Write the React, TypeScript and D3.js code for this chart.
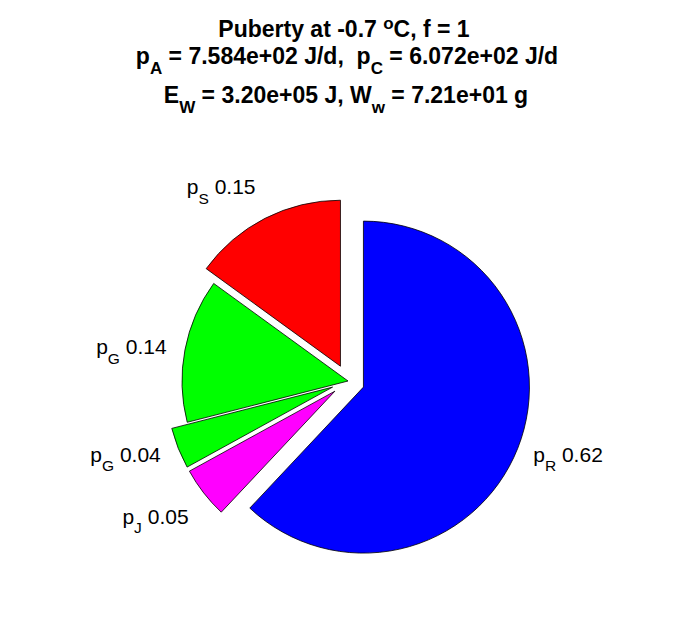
import React from 'react';
import * as d3 from 'd3';

// slice data, drawn clockwise from 12 o'clock
const sliceNames = ['R', 'J', 'G', 'G', 'S'];
const sliceFractions = [0.62, 0.05, 0.04, 0.14, 0.15];
const sliceColors = ['#0000ff', '#ff00ff', '#00ff00', '#00ff00', '#ff0000'];
const sliceExploded = [true, true, true, false, true];

const width = 696;
const height = 618;
const cx = 348;
const cy = 381;
const radius = 166;
const explodeDist = radius * 0.1;
const font = '"Liberation Sans", Arial, Helvetica, sans-serif';
const labelSize = 21;
const titleSize = 23;
const subScale = 0.74;

export default function App() {
  const pie = d3.pie<number>().sort(null).value(d => d)(sliceFractions);
  const arc = d3.arc<d3.PieArcDatum<number>>().innerRadius(0).outerRadius(radius);

  const slices = pie.map((p, i) => {
    const mid = (p.startAngle + p.endAngle) / 2;
    const ux = Math.sin(mid);
    const uy = -Math.cos(mid);
    const off = sliceExploded[i] ? explodeDist : 0;
    const ox = cx + ux * off;
    const oy = cy + uy * off;
    // label placement, roughly like MATLAB's pie
    let vshift = 0;
    if (uy > 0.5) vshift = 13;
    else if (uy < -0.5) vshift = -17;
    const lx = ox + ux * radius * 1.1 + (ux < 0 ? -2 : 0);
    const ly = oy + uy * radius * 1.1 + vshift;
    return {
      d: arc(p) as string,
      ox, oy, lx, ly,
      anchor: ux < 0 ? 'end' : 'start',
      color: sliceColors[i],
      name: sliceNames[i],
      value: sliceFractions[i],
    };
  });

  const ts = titleSize;
  const tsub = ts * subScale;
  const tdy = ts * 0.42;

  return (
    <svg width={width} height={height} style={{ position: 'absolute', left: 0, top: 0, background: '#fff' }}
      fontFamily={font}>
      <rect width={width} height={height} fill="#fff" />
      <g fontWeight="bold" fontSize={ts} textAnchor="middle">
        <text x={344} y={37} xmlSpace="preserve">
          Puberty at -0.7 <tspan dy={-8} fontSize={tsub}>o</tspan><tspan dy={8}>C, f = 1</tspan>
        </text>
        <text x={347} y={64} xmlSpace="preserve">
          p<tspan dy={tdy} fontSize={tsub}>A</tspan><tspan dy={-tdy}>{' = 7.584e+02 J/d,\u00a0 p'}</tspan>
          <tspan dy={tdy} fontSize={tsub}>C</tspan><tspan dy={-tdy}> = 6.072e+02 J/d</tspan>
        </text>
        <text x={346} y={103} xmlSpace="preserve">
          E<tspan dy={tdy} fontSize={tsub}>W</tspan><tspan dy={-tdy}> = 3.20e+05 J, W</tspan>
          <tspan dy={tdy} fontSize={tsub}>w</tspan><tspan dy={-tdy}> = 7.21e+01 g</tspan>
        </text>
      </g>
      {slices.map((s, i) => (
        <path key={i} d={s.d} transform={`translate(${s.ox},${s.oy})`} fill={s.color}
          stroke="#000" strokeWidth={0.8} strokeLinejoin="round" />
      ))}
      <g fontSize={labelSize}>
        {slices.map((s, i) => (
          <text key={i} x={s.lx} y={s.ly + labelSize * 0.36} textAnchor={s.anchor}>
            p<tspan dy={labelSize * 0.45} fontSize={labelSize * subScale}>{s.name}</tspan>
            <tspan dy={-labelSize * 0.45}>{'\u00a0' + s.value.toFixed(2)}</tspan>
          </text>
        ))}
      </g>
    </svg>
  );
}
